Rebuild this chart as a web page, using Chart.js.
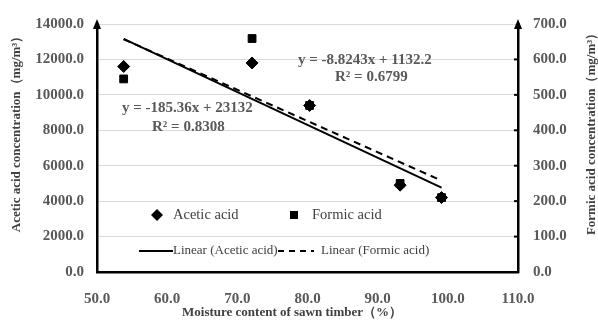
<!DOCTYPE html>
<html>
<head>
<meta charset="utf-8">
<script src="https://cdn.jsdelivr.net/npm/chart.js@4/dist/chart.umd.min.js"></script>
<style>
  html, body { margin: 0; padding: 0; background: #fff; }
  #wrap { width: 598px; height: 321px; }
</style>
</head>
<body>
<div id="wrap"><canvas id="myChart" width="598" height="321"></canvas></div>
<script>
// values
const moisture = [53.8, 72.1, 80.3, 93.2, 99.1];
const acetic = [11600, 11800, 9400, 4900, 4200];
const formic = [545, 659, 470, 250, 210];
// trend line end points
const trendX = [53.8, 99.1];
const aceticTrend = [13160, 4760];
const formicTrend = [657, 258];

const serif = '"Liberation Serif", "Times New Roman", serif';
const tickColor = '#595959';

function pts(xs, ys) {
    const out = [];
    for (let i = 0; i < xs.length; i++) out.push({x: xs[i], y: ys[i]});
    return out;
}

// texts, axis arrows and inner legend
const extras = {
    id: 'extras',
    afterDraw(chart) {
        const ctx = chart.ctx;
        const a = chart.chartArea;
        ctx.save();
        // arrows on top of both y axes
        ctx.fillStyle = '#000';
        for (const x of [a.left, a.right]) {
            ctx.beginPath();
            ctx.moveTo(x, a.top - 5);
            ctx.lineTo(x - 4, a.top + 5);
            ctx.lineTo(x + 4, a.top + 5);
            ctx.closePath();
            ctx.fill();
        }
        // small ticks on the right axis
        const y2 = chart.scales.y2;
        ctx.strokeStyle = '#000';
        ctx.lineWidth = 2;
        for (const t of y2.ticks) {
            if (t.value === 0 || t.value === 700) continue;
            const py = y2.getPixelForValue(t.value);
            ctx.beginPath();
            ctx.moveTo(a.right - 4, py); ctx.lineTo(a.right, py);
            ctx.stroke();
        }
        // equations
        ctx.fillStyle = tickColor;
        ctx.font = 'bold 15px ' + serif;
        ctx.textBaseline = 'middle';
        ctx.textAlign = 'left';
        ctx.fillText('y = -185.36x + 23132', 122, 108);
        ctx.fillText('R² = 0.8308', 152, 127);
        ctx.fillText('y = -8.8243x + 1132.2', 298, 60);
        ctx.fillText('R² = 0.6799', 335, 77);

        // legend
        ctx.fillStyle = '#404040';
        ctx.font = '14.5px ' + serif;
        ctx.fillText('Acetic acid', 173, 215);
        ctx.fillText('Formic acid', 312, 215);
        ctx.font = '13px ' + serif;
        ctx.fillText('Linear (Acetic acid)', 173, 251);
        ctx.fillText('Linear (Formic acid)', 321, 251);
        ctx.fillStyle = '#000';
        ctx.beginPath();
        ctx.moveTo(157, 209); ctx.lineTo(163, 215); ctx.lineTo(157, 221); ctx.lineTo(151, 215);
        ctx.closePath();
        ctx.fill();
        ctx.fillRect(290, 211, 8, 8);
        ctx.lineWidth = 2;
        ctx.beginPath();
        ctx.moveTo(139, 251); ctx.lineTo(173, 251);
        ctx.stroke();
        ctx.setLineDash([6, 5]);
        ctx.beginPath();
        ctx.moveTo(278, 251); ctx.lineTo(314, 251);
        ctx.stroke();
        ctx.setLineDash([]);

        // axis titles
        ctx.fillStyle = '#404040';
        ctx.font = 'bold 13px ' + serif;
        ctx.textAlign = 'center';
        ctx.fillText('Moisture content of sawn timber（%）', 292, 313);
        for (const [x, t] of [[17, 'Acetic acid concentration（mg/m³）'], [592, 'Formic acid concentration（mg/m³）']]) {
            ctx.save();
            ctx.translate(x, 131);
            ctx.rotate(-Math.PI / 2);
            ctx.fillText(t, 0, 0);
            ctx.restore();
        }
        ctx.restore();
    }
};

const tickFont = {family: serif, size: 15, weight: 'bold'};

new Chart(document.getElementById('myChart'), {
    type: 'scatter',
    data: {
        datasets: [{
            label: 'Acetic acid',
            data: pts(moisture, acetic),
            yAxisID: 'y',
            pointStyle: 'rectRot',
            pointRadius: 6,
            backgroundColor: '#000',
            borderColor: '#000'
        }, {
            label: 'Formic acid',
            data: pts(moisture, formic),
            yAxisID: 'y2',
            pointStyle: 'rect',
            pointRadius: 5.5,
            backgroundColor: '#000',
            borderColor: '#000'
        }, {
            label: 'Linear (Acetic acid)',
            data: pts(trendX, aceticTrend),
            yAxisID: 'y',
            showLine: true,
            pointRadius: 0,
            borderColor: '#000',
            borderWidth: 2
        }, {
            label: 'Linear (Formic acid)',
            data: pts(trendX, formicTrend),
            yAxisID: 'y2',
            showLine: true,
            pointRadius: 0,
            borderColor: '#000',
            borderWidth: 2,
            borderDash: [7, 5]
        }]
    },
    options: {
        responsive: false,
        animation: false,
        layout: {padding: {top: 15, left: 0, right: 0, bottom: 0}},
        plugins: {legend: {display: false}, tooltip: {enabled: false}},
        scales: {
            x: {
                type: 'linear',
                min: 50, max: 110,
                grid: {display: false},
                border: {display: true, color: '#000', width: 2.5},
                ticks: {stepSize: 10, color: tickColor, font: tickFont, padding: 10,
                    callback: v => v.toFixed(1)},
                afterFit: s => { s.height = 49; }
            },
            y: {
                position: 'left',
                min: 0, max: 14000,
                grid: {color: '#d9d9d9', lineWidth: 1, drawTicks: false},
                border: {display: true, color: '#000', width: 2.5},
                ticks: {stepSize: 2000, color: tickColor, font: tickFont, padding: 13,
                    callback: v => v.toFixed(1)},
                afterFit: s => { s.width = 97; }
            },
            y2: {
                position: 'right',
                min: 0, max: 700,
                grid: {display: false, drawTicks: false},
                border: {display: true, color: '#000', width: 2.5},
                ticks: {stepSize: 100, color: tickColor, font: tickFont, padding: 15,
                    callback: v => v.toFixed(1)},
                afterFit: s => { s.width = 80; }
            }
        }
    },
    plugins: [extras]
});
</script>
</body>
</html>
